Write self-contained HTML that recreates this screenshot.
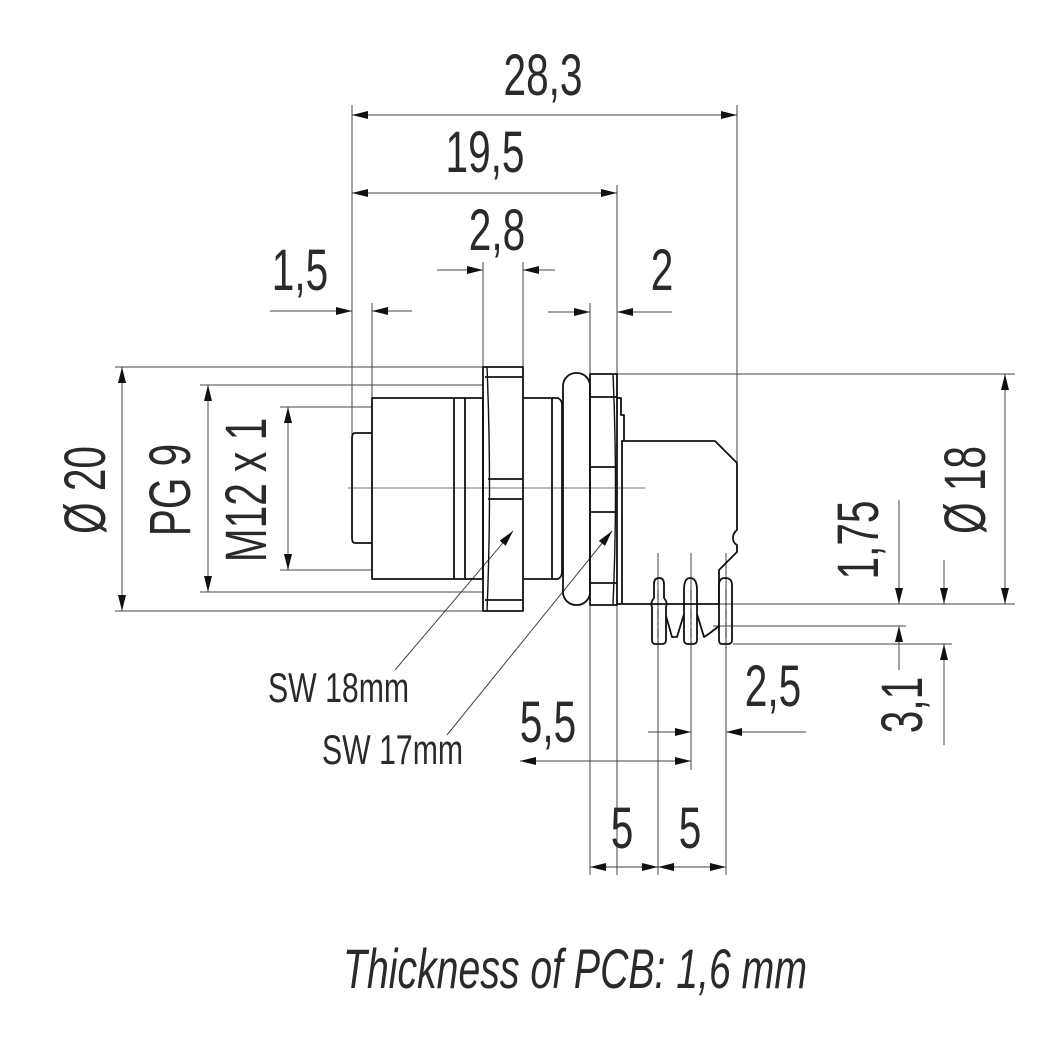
<!DOCTYPE html>
<html><head><meta charset="utf-8"><style>
html,body{margin:0;padding:0;background:#fff}
svg text{font-family:"Liberation Sans",sans-serif;fill:#2a2a2a}
</style></head><body>
<svg width="1064" height="1047" viewBox="0 0 1064 1047" xmlns="http://www.w3.org/2000/svg">
<defs>
<marker id="a" viewBox="0 0 16 8" refX="16" refY="4" markerWidth="16" markerHeight="8" orient="auto-start-reverse" markerUnits="userSpaceOnUse"><path d="M0,0L16,4L0,8z" fill="#111"/></marker>
</defs>
<g stroke="#444" stroke-width="1" fill="none">
<line x1="352" y1="105" x2="352" y2="440"/>
<line x1="372" y1="303" x2="372" y2="398"/>
<line x1="483" y1="262" x2="483" y2="367"/>
<line x1="523" y1="262" x2="523" y2="367"/>
<line x1="590" y1="303" x2="590" y2="875"/>
<line x1="617" y1="185" x2="617" y2="875"/>
<line x1="737" y1="105" x2="737" y2="463"/>
<line x1="658" y1="553" x2="658" y2="875"/>
<line x1="691" y1="553" x2="691" y2="770"/>
<line x1="726" y1="553" x2="726" y2="875"/>
<line x1="115" y1="367" x2="483" y2="367"/>
<line x1="115" y1="611" x2="483" y2="611"/>
<line x1="200" y1="385" x2="483" y2="385"/>
<line x1="200" y1="592" x2="483" y2="592"/>
<line x1="280" y1="407" x2="372" y2="407"/>
<line x1="280" y1="570" x2="372" y2="570"/>
<line x1="617" y1="374" x2="1015" y2="374"/>
<line x1="617" y1="604" x2="1015" y2="604"/>
<line x1="713" y1="626" x2="906" y2="626"/>
<line x1="733" y1="644" x2="952" y2="644"/>
<line x1="348" y1="488" x2="645" y2="488" stroke-width="0.8"/>
<line x1="352" y1="115" x2="737" y2="115" marker-start="url(#a)" marker-end="url(#a)"/>
<line x1="352" y1="193" x2="617" y2="193" marker-start="url(#a)" marker-end="url(#a)"/>
<line x1="437" y1="270" x2="483" y2="270" marker-end="url(#a)"/>
<line x1="555" y1="270" x2="523" y2="270" marker-end="url(#a)"/>
<line x1="270" y1="311" x2="352" y2="311" marker-end="url(#a)"/>
<line x1="412" y1="311" x2="372" y2="311" marker-end="url(#a)"/>
<line x1="548" y1="312" x2="590" y2="312" marker-end="url(#a)"/>
<line x1="672" y1="312" x2="617" y2="312" marker-end="url(#a)"/>
<line x1="122" y1="367" x2="122" y2="611" marker-start="url(#a)" marker-end="url(#a)"/>
<line x1="208" y1="385" x2="208" y2="592" marker-start="url(#a)" marker-end="url(#a)"/>
<line x1="288" y1="407" x2="288" y2="570" marker-start="url(#a)" marker-end="url(#a)"/>
<line x1="1005" y1="374" x2="1005" y2="604" marker-start="url(#a)" marker-end="url(#a)"/>
<line x1="899" y1="500" x2="899" y2="604" marker-end="url(#a)"/>
<line x1="899" y1="670" x2="899" y2="626" marker-end="url(#a)"/>
<line x1="944" y1="560" x2="944" y2="604" marker-end="url(#a)"/>
<line x1="944" y1="745" x2="944" y2="644" marker-end="url(#a)"/>
<line x1="520" y1="761" x2="617" y2="761" marker-start="url(#a)"/>
<line x1="617" y1="761" x2="691" y2="761" marker-end="url(#a)"/>
<line x1="648" y1="732" x2="691" y2="732" marker-end="url(#a)"/>
<line x1="806" y1="732" x2="726" y2="732" marker-end="url(#a)"/>
<line x1="590" y1="867" x2="658" y2="867" marker-start="url(#a)" marker-end="url(#a)"/>
<line x1="658" y1="867" x2="726" y2="867" marker-start="url(#a)" marker-end="url(#a)"/>
<line x1="395" y1="670" x2="513" y2="531" marker-end="url(#a)"/>
<line x1="447" y1="735" x2="612" y2="531" marker-end="url(#a)"/>
</g>
<g stroke="#111" stroke-width="1.8" fill="none" stroke-linejoin="round">
<path d="M372,433 H355 Q352,433 352,438 V538 Q352,543 355,543 H372"/>
<rect x="372" y="398" width="111" height="181"/>
<line x1="454" y1="398" x2="454" y2="579"/>
<line x1="465" y1="398" x2="465" y2="579"/>
<rect x="483" y="367" width="40" height="244"/>
<line x1="485" y1="377" x2="523" y2="377"/>
<line x1="485" y1="600" x2="523" y2="600"/>
<line x1="488" y1="479" x2="523" y2="479"/>
<line x1="488" y1="499" x2="523" y2="499"/>
<path d="M487,367 Q492,488 487,611" stroke-width="1.4"/>
<path d="M523,398 H558 Q562,400 562,405 V572 Q562,577 558,579 H523"/>
<line x1="552" y1="398" x2="552" y2="579"/>
<rect x="563" y="373" width="27" height="232" rx="13" ry="13"/>
<rect x="590" y="374" width="27" height="231"/>
<line x1="590" y1="397" x2="617" y2="397"/>
<line x1="590" y1="467" x2="617" y2="467"/>
<line x1="590" y1="512" x2="617" y2="512"/>
<line x1="590" y1="583" x2="617" y2="583"/>
<path d="M613,374 Q618,488 613,605" stroke-width="1.4"/>
<path d="M617,398 H621 V415 H624 V441"/>
<path d="M621,441 H715 L737,463 V530 Q733,533 733,538 Q733,543 737,545 V552 L719,570 V604 H617"/>
<line x1="622" y1="441" x2="622" y2="604"/>
<!-- pins -->
<path d="M655,644 Q652,644 652,640 V607 Q650,603 654,598 V584 Q654,578 659,578 Q664,578 664,584 V598 Q668,603 666,607 V640 Q666,644 662,644 Z"/>
<path d="M688,644 Q684,644 684,640 V590 Q684,578 690,578 Q697,578 697,590 V640 Q697,644 693,644 Z"/>
<path d="M722,644 Q719,644 719,640 V585 Q719,578 725,578 Q732,578 732,585 V640 Q732,644 728,644 Z"/>
<path d="M666,616 L672,637 L677,637 L684,614"/>
<path d="M697,614 L704,637 L710,633 L719,626"/>
</g>
<g stroke="#111" stroke-width="0.8" stroke-dasharray="10,3,3,3">
<line x1="658" y1="590" x2="658" y2="648"/>
<line x1="691" y1="590" x2="691" y2="648"/>
<line x1="726" y1="590" x2="726" y2="648"/>
</g>
<g font-size="58" text-anchor="middle">
<text transform="translate(543,95) scale(0.7,1)">28,3</text>
<text transform="translate(485,172) scale(0.7,1)">19,5</text>
<text transform="translate(497,250) scale(0.7,1)">2,8</text>
<text transform="translate(300,290) scale(0.7,1)">1,5</text>
<text transform="translate(662,290) scale(0.7,1)">2</text>
<text transform="translate(773,706) scale(0.7,1)">2,5</text>
<text transform="translate(548,742) scale(0.7,1)">5,5</text>
<text transform="translate(622,848) scale(0.7,1)">5</text>
<text transform="translate(690,848) scale(0.7,1)">5</text>
<text transform="translate(105,490) rotate(-90) scale(0.7,1)">Ø 20</text>
<text transform="translate(190,490) rotate(-90) scale(0.7,1)">PG 9</text>
<text transform="translate(266,490) rotate(-90) scale(0.7,1)">M12 x 1</text>
<text transform="translate(985,490) rotate(-90) scale(0.7,1)">Ø 18</text>
<text transform="translate(878,540) rotate(-90) scale(0.7,1)">1,75</text>
<text transform="translate(922,705) rotate(-90) scale(0.7,1)">3,1</text>
</g>
<g font-size="42" text-anchor="start">
<text transform="translate(268,702) scale(0.72,1)">SW 18mm</text>
<text transform="translate(322,764) scale(0.72,1)">SW 17mm</text>
</g>
<text transform="translate(575,988) scale(0.7,1)" font-size="56" font-style="italic" text-anchor="middle">Thickness of PCB: 1,6 mm</text>
</svg>
</body></html>
